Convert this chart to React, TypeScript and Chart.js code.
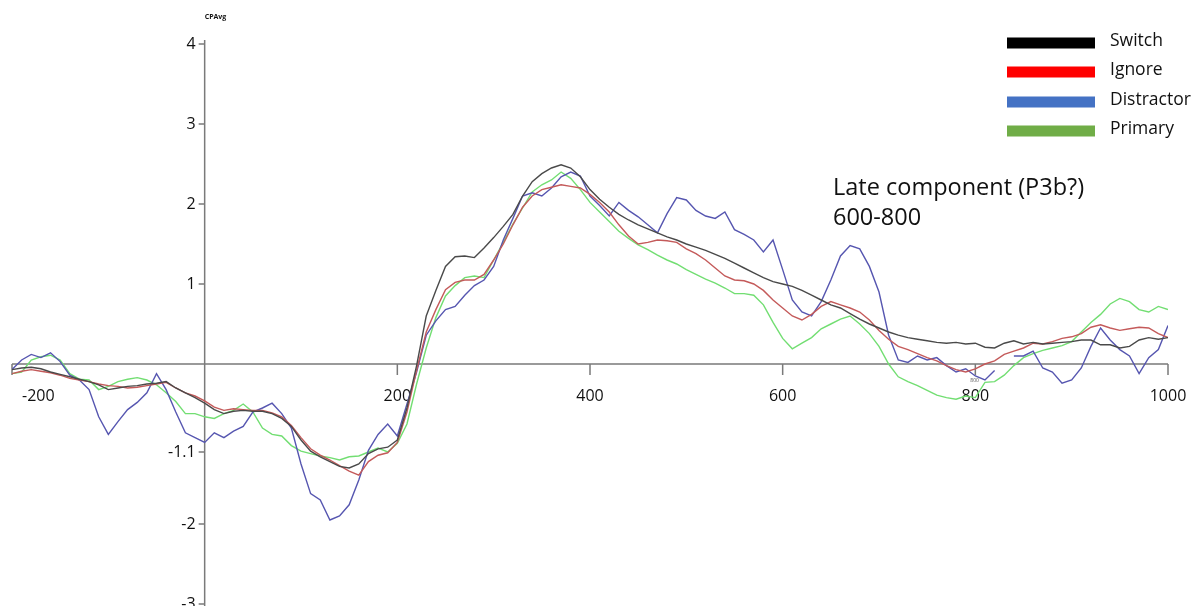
import React, { useEffect, useRef } from "react";
import { Chart, registerables } from "chart.js";

Chart.register(...registerables);

// time points (ms)
const times = [
  -200, -190, -180, -170, -160, -150, -140, -130, -120, -110,
  -100, -90, -80, -70, -60, -50, -40, -30, -20, -10,
  0, 10, 20, 30, 40, 50, 60, 70, 80, 90,
  100, 110, 120, 130, 140, 150, 160, 170, 180, 190,
  200, 210, 220, 230, 240, 250, 260, 270, 280, 290,
  300, 310, 320, 330, 340, 350, 360, 370, 380, 390,
  400, 410, 420, 430, 440, 450, 460, 470, 480, 490,
  500, 510, 520, 530, 540, 550, 560, 570, 580, 590,
  600, 610, 620, 630, 640, 650, 660, 670, 680, 690,
  700, 710, 720, 730, 740, 750, 760, 770, 780, 790,
  800, 810, 820, 830, 840, 850, 860, 870, 880, 890,
  900, 910, 920, 930, 940, 950, 960, 970, 980, 990,
  1000,
];

const switchValues = [
  -0.07, -0.05, -0.04, -0.06, -0.10, -0.13, -0.16, -0.19, -0.22, -0.26,
  -0.32, -0.30, -0.28, -0.27, -0.25, -0.24, -0.22, -0.30, -0.36, -0.42,
  -0.49, -0.57, -0.62, -0.59, -0.58, -0.59, -0.59, -0.62, -0.68, -0.78,
  -0.95, -1.09, -1.16, -1.22, -1.28, -1.30, -1.25, -1.12, -1.06, -1.04,
  -0.95, -0.55, -0.02, 0.60, 0.92, 1.22, 1.34, 1.35, 1.33, 1.45,
  1.58, 1.72, 1.87, 2.10, 2.28, 2.38, 2.45, 2.49, 2.45, 2.34,
  2.18, 2.06, 1.96, 1.87, 1.80, 1.74, 1.69, 1.64, 1.59, 1.55,
  1.50, 1.46, 1.42, 1.37, 1.32, 1.26, 1.20, 1.14, 1.08, 1.03,
  1.00, 0.97, 0.92, 0.86, 0.80, 0.74, 0.70, 0.63, 0.56, 0.50,
  0.45, 0.40, 0.36, 0.33, 0.31, 0.29, 0.27, 0.26, 0.27, 0.25,
  0.26, 0.21, 0.20, 0.26, 0.29, 0.25, 0.27, 0.25, 0.26, 0.27,
  0.28, 0.30, 0.30, 0.24, 0.24, 0.20, 0.22, 0.30, 0.33, 0.31,
  0.33,
];

const ignoreValues = [
  -0.12, -0.09, -0.07, -0.09, -0.11, -0.14, -0.18, -0.20, -0.22, -0.25,
  -0.27, -0.28, -0.30, -0.29, -0.27, -0.25, -0.23, -0.30, -0.36, -0.40,
  -0.46, -0.54, -0.58, -0.56, -0.57, -0.58, -0.58, -0.61, -0.66, -0.77,
  -0.92, -1.06, -1.14, -1.20, -1.27, -1.34, -1.39, -1.22, -1.14, -1.11,
  -0.98, -0.60, -0.08, 0.40, 0.68, 0.93, 1.02, 1.05, 1.05, 1.12,
  1.30, 1.50, 1.74, 1.96, 2.10, 2.18, 2.21, 2.24, 2.22, 2.20,
  2.12, 2.02, 1.90, 1.74, 1.60, 1.50, 1.52, 1.55, 1.54, 1.52,
  1.44, 1.38, 1.30, 1.20, 1.10, 1.05, 1.04, 1.00, 0.92, 0.80,
  0.70, 0.60, 0.55, 0.62, 0.72, 0.78, 0.74, 0.70, 0.65, 0.55,
  0.42, 0.31, 0.22, 0.18, 0.13, 0.08, 0.04, -0.02, -0.07, -0.10,
  -0.06, 0.00, 0.04, 0.12, 0.16, 0.20, 0.26, 0.25, 0.28, 0.32,
  0.34, 0.38, 0.46, 0.49, 0.45, 0.42, 0.44, 0.46, 0.45, 0.38,
  0.33,
];

const distractorValues = [
  -0.07, 0.05, 0.12, 0.08, 0.14, 0.03, -0.14, -0.20, -0.32, -0.66,
  -0.88, -0.72, -0.57, -0.48, -0.36, -0.12, -0.32, -0.60, -0.86, -0.92,
  -0.98, -0.86, -0.92, -0.84, -0.78, -0.60, -0.55, -0.49, -0.62, -0.80,
  -1.25, -1.62, -1.70, -1.95, -1.90, -1.76, -1.45, -1.08, -0.88, -0.75,
  -0.90, -0.50, -0.10, 0.36, 0.54, 0.68, 0.72, 0.86, 0.98, 1.05,
  1.22, 1.55, 1.82, 2.10, 2.14, 2.10, 2.20, 2.34, 2.40, 2.35,
  2.10, 1.98, 1.85, 2.02, 1.92, 1.84, 1.74, 1.64, 1.88, 2.08,
  2.05, 1.92, 1.85, 1.82, 1.90, 1.68, 1.62, 1.55, 1.40, 1.55,
  1.18, 0.80, 0.65, 0.60, 0.78, 1.05, 1.35, 1.48, 1.44, 1.22,
  0.90, 0.36, 0.05, 0.02, 0.10, 0.05, 0.08, -0.02, -0.10, -0.06,
  -0.15, -0.20, -0.08, null, 0.10, 0.10, 0.16, -0.05, -0.10, -0.24,
  -0.20, -0.05, 0.22, 0.45, 0.30, 0.18, 0.10, -0.12, 0.08, 0.18,
  0.48,
];

const primaryValues = [
  -0.12, -0.10, 0.05, 0.09, 0.11, 0.05, -0.12, -0.19, -0.20, -0.32,
  -0.28, -0.22, -0.19, -0.17, -0.20, -0.26, -0.36, -0.47, -0.62, -0.62,
  -0.66, -0.68, -0.62, -0.58, -0.50, -0.60, -0.80, -0.88, -0.90, -1.02,
  -1.09, -1.12, -1.15, -1.17, -1.20, -1.16, -1.15, -1.10, -1.05, -1.10,
  -0.99, -0.75, -0.25, 0.20, 0.58, 0.85, 0.98, 1.08, 1.10, 1.08,
  1.30, 1.52, 1.75, 1.95, 2.15, 2.24, 2.30, 2.40, 2.32, 2.18,
  2.02, 1.90, 1.78, 1.66, 1.57, 1.49, 1.43, 1.36, 1.30, 1.25,
  1.18, 1.12, 1.06, 1.01, 0.95, 0.88, 0.88, 0.86, 0.74, 0.52,
  0.32, 0.19, 0.26, 0.33, 0.44, 0.50, 0.56, 0.60, 0.50, 0.38,
  0.22, 0.00, -0.16, -0.22, -0.27, -0.33, -0.39, -0.42, -0.44, -0.40,
  -0.42, -0.23, -0.22, -0.14, -0.02, 0.08, 0.13, 0.17, 0.20, 0.23,
  0.28, 0.40, 0.52, 0.62, 0.75, 0.82, 0.78, 0.68, 0.65, 0.72,
  0.68,
];

const seriesNames = ["Switch", "Ignore", "Distractor", "Primary"];
const lineColors = ["#4a4a4a", "#c45a5a", "#5656b0", "#72de72"];
const legendColors = ["#000000", "#ff0000", "#4472c4", "#70ad47"];
const xTicks = [-200, 200, 400, 600, 800, 1000];
const yTicks = [4, 3, 2, 1, -1.1, -2, -3];
const axisTitle = "CPAvg";
const annotationLines = ["Late component (P3b?)", "600-800"];
const strayLabel = "800";

const FONT = "'Open Sans', 'Liberation Sans', sans-serif";

const erpPlugin = {
  id: "erpAxes",
  beforeDatasetsDraw(chart: any) {
    const { ctx, scales } = chart;
    const x = scales.x;
    const y = scales.y;
    const x0 = x.getPixelForValue(0);
    const y0 = y.getPixelForValue(0);
    ctx.save();
    ctx.strokeStyle = "#7a7a7a";
    ctx.lineWidth = 1.5;
    ctx.beginPath();
    ctx.moveTo(x.getPixelForValue(-200), y0);
    ctx.lineTo(x.getPixelForValue(1000), y0);
    ctx.moveTo(x0, y.getPixelForValue(4) - 4);
    ctx.lineTo(x0, chart.height);
    for (const t of xTicks) {
      const px = x.getPixelForValue(t);
      ctx.moveTo(px, y0);
      ctx.lineTo(px, y0 + 11);
    }
    for (const t of yTicks) {
      const py = y.getPixelForValue(t);
      ctx.moveTo(x0 - 6, py);
      ctx.lineTo(x0, py);
    }
    ctx.stroke();

    // tick labels
    ctx.fillStyle = "#111111";
    ctx.font = `16px ${FONT}`;
    ctx.textBaseline = "middle";
    for (const t of xTicks) {
      const px = x.getPixelForValue(t);
      const label = String(t);
      const w = ctx.measureText(label).width;
      let left = px - w / 2;
      if (left < 22) left = 22;
      ctx.textAlign = "left";
      ctx.fillText(label, left, y0 + 32);
    }
    ctx.textAlign = "right";
    for (const t of yTicks) {
      const py = y.getPixelForValue(t);
      ctx.fillText(String(t), x0 - 9, py);
    }

    // axis title
    ctx.font = `bold 7px ${FONT}`;
    ctx.textAlign = "left";
    ctx.fillText(axisTitle, x0, 17);

    // stray small label
    ctx.font = `5px ${FONT}`;
    ctx.fillStyle = "#555555";
    ctx.fillText(strayLabel, x.getPixelForValue(800) - 5, y0 + 17);
    ctx.restore();
  },
  afterDraw(chart: any) {
    const { ctx } = chart;
    ctx.save();
    // legend
    const rowY = [43, 72, 102, 131];
    seriesNames.forEach((name, i) => {
      ctx.fillStyle = legendColors[i];
      ctx.fillRect(1007, rowY[i] - 5.5, 88, 11);
      ctx.fillStyle = "#111111";
      ctx.font = `17.5px ${FONT}`;
      ctx.textAlign = "left";
      ctx.textBaseline = "middle";
      ctx.fillText(name, 1110, rowY[i] - 2);
    });
    // annotation
    ctx.font = `23.5px ${FONT}`;
    ctx.fillStyle = "#111111";
    ctx.textAlign = "left";
    ctx.textBaseline = "middle";
    ctx.fillText(annotationLines[0], 833, 188);
    ctx.fillText(annotationLines[1], 833, 218);
    ctx.restore();
  },
};

export default function App() {
  const canvasRef = useRef<HTMLCanvasElement | null>(null);

  useEffect(() => {
    const canvas = canvasRef.current;
    if (!canvas) return;
    const valueSets = [switchValues, ignoreValues, distractorValues, primaryValues];
    const chart = new Chart(canvas, {
      type: "line",
      data: {
        datasets: seriesNames.map((name, i) => ({
          label: name,
          data: times.map((t, j) => ({ x: t, y: valueSets[i][j] })),
          borderColor: lineColors[i],
          borderWidth: 1.4,
          pointRadius: 0,
          tension: 0,
          fill: false,
          spanGaps: false,
        })),
      },
      options: {
        animation: false,
        responsive: false,
        devicePixelRatio: 1,
        layout: { padding: { left: 12, right: 29, top: 40, bottom: 2 } },
        plugins: {
          legend: { display: false },
          tooltip: { enabled: false },
        },
        scales: {
          x: { type: "linear", min: -200, max: 1000, display: false },
          y: { type: "linear", min: -3, max: 4.05, display: false },
        },
      },
      plugins: [erpPlugin],
    });
    return () => chart.destroy();
  }, []);

  return (
    <div style={{ position: "absolute", left: 0, top: 0, width: 1197, height: 606, background: "#ffffff" }}>
      <canvas ref={canvasRef} width={1197} height={606} />
    </div>
  );
}
